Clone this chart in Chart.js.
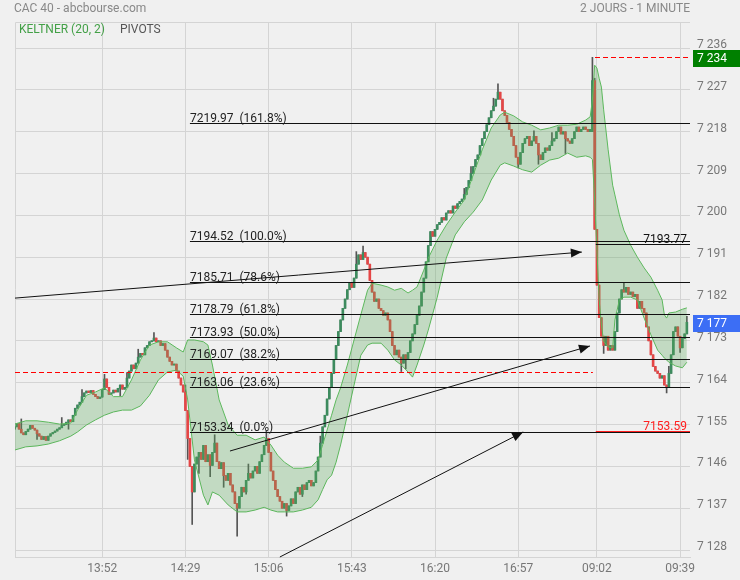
<!DOCTYPE html>
<html>
<head>
<meta charset="utf-8">
<script src="https://cdn.jsdelivr.net/npm/chart.js@4.4.1/dist/chart.umd.min.js"></script>
<style>
  body { margin: 0; background: #f0f0f0; font-family: Roboto, sans-serif; }
  #wrap { position: relative; width: 740px; height: 580px; }
  canvas { position: absolute; left: 0; top: 0; }
  .t { position: absolute; font-size: 12px; line-height: 14px; color: #888; white-space: nowrap; }
</style>
</head>
<body>
<div id="wrap">
  <canvas id="chart" width="740" height="580"></canvas>
  <div class="t" style="left:14px;top:1px">CAC 40 - abcbourse.com</div>
  <div class="t" style="right:50px;top:1px">2 JOURS - 1 MINUTE</div>
  <div class="t" style="left:19px;top:22px;color:#43a047">KELTNER (20, 2)</div>
  <div class="t" style="left:120px;top:22px;color:#555">PIVOTS</div>
</div>
<script>
// 1-minute closes, day 1 (13:13 - 17:29) and day 2 (09:00 - 09:42)
const closesDay1 = [
  7154.5, 7155.2, 7154.0, 7153.2, 7152.8, 7153.5, 7154.0, 7154.8, 7154.2, 7153.8,
  7153.0, 7152.5, 7151.8, 7152.4, 7151.6, 7152.5, 7153.0, 7153.3, 7153.6, 7154.0,
  7154.3, 7154.8, 7155.0, 7155.5, 7156.0, 7155.6, 7157.0, 7158.5, 7159.2, 7159.8,
  7161.0, 7161.8, 7162.2, 7161.9, 7162.3, 7161.5, 7161.0, 7160.6, 7160.9, 7162.5,
  7164.8, 7163.0, 7161.5, 7161.8, 7162.4, 7162.0, 7162.8, 7163.5, 7162.6, 7163.0,
  7165.0, 7166.5, 7167.8, 7167.0, 7168.2, 7169.5, 7170.3, 7170.0, 7171.5, 7172.0,
  7172.8, 7173.0, 7173.6, 7172.8, 7173.0, 7172.0, 7172.4, 7171.0, 7169.5, 7168.6,
  7167.8, 7168.0, 7166.5, 7165.0, 7163.5, 7162.0, 7158.0, 7152.0, 7146.0, 7140.5,
  7146.5, 7148.0, 7149.0, 7147.5, 7150.5, 7147.0, 7148.5, 7146.2, 7149.0, 7151.0,
  7147.0, 7145.5, 7146.8, 7144.0, 7143.0, 7144.5, 7142.0, 7140.5, 7138.0, 7137.0,
  7139.5, 7141.5, 7140.5, 7143.0, 7144.5, 7143.5, 7145.0, 7146.0, 7144.5, 7147.0,
  7148.5, 7150.5, 7152.0, 7149.0, 7145.0, 7143.0, 7141.0, 7139.5, 7138.5, 7137.0,
  7138.0, 7136.5, 7137.5, 7139.0, 7138.0, 7140.5, 7141.5, 7140.0, 7142.0, 7141.0,
  7142.5, 7143.0, 7141.8, 7142.5, 7145.0, 7148.0, 7151.0, 7154.5, 7157.0, 7160.5,
  7163.0, 7166.0, 7169.0, 7172.0, 7175.0, 7177.5, 7180.0, 7182.0, 7184.0, 7185.5,
  7184.5, 7186.5, 7189.5, 7191.5, 7190.5, 7192.0, 7191.0, 7189.5, 7186.0, 7183.5,
  7181.5, 7182.0, 7180.0, 7179.5, 7178.5, 7179.0, 7177.5, 7175.0, 7172.0, 7170.0,
  7171.0, 7169.5, 7168.2, 7170.0, 7169.0, 7170.5, 7173.0, 7174.5, 7176.5, 7178.5,
  7180.5, 7183.5, 7186.5, 7190.0, 7193.5, 7196.5, 7195.5, 7197.0, 7198.0, 7198.5,
  7199.5, 7199.0, 7200.5, 7201.0, 7200.5, 7202.0, 7201.5, 7202.5, 7203.0, 7203.5,
  7204.5, 7206.0, 7207.5, 7209.0, 7210.5, 7212.0, 7213.0, 7215.0, 7216.5, 7218.0,
  7219.5, 7221.0, 7222.5, 7223.5, 7225.0, 7226.5, 7225.0, 7222.5, 7221.5, 7220.0,
  7218.5, 7217.0, 7215.0, 7212.5, 7211.0, 7213.5, 7215.5, 7216.5, 7217.0, 7215.0,
  7216.0, 7217.0, 7215.5, 7213.0, 7212.0, 7213.5, 7214.5, 7214.0, 7215.0, 7216.0,
  7216.5, 7218.0, 7219.0, 7217.5, 7218.0, 7216.5, 7216.0, 7215.5, 7216.5, 7218.0,
  7219.0, 7218.0, 7218.5, 7219.0, 7218.5, 7218.0, 7218.5
];
const closesDay2 = [
  7229.0, 7197.0, 7185.0, 7178.0, 7174.0, 7172.0, 7174.0, 7171.0, 7172.0, 7171.0,
  7175.0, 7179.0, 7182.0, 7184.0, 7183.5, 7184.5, 7183.0, 7183.5, 7182.5, 7183.0,
  7180.0, 7181.5, 7180.0, 7179.0, 7176.0, 7173.0, 7170.0, 7167.5, 7166.5, 7166.0,
  7165.0, 7165.5, 7163.5, 7163.0, 7166.0, 7170.0, 7175.0, 7176.0, 7174.0, 7171.5,
  7173.5, 7174.5, 7177.0
];
const sessionOpens = [7154.0, 7218.0];

// visible wicks (candle index -> price)
const wickHigh = {
  3: 7156.2, 21: 7156.5, 30: 7162.5, 40: 7165.8, 50: 7166.2, 55: 7171.2, 62: 7174.8,
  76: 7163.5, 89: 7152.8, 104: 7146.5, 112: 7153.6, 136: 7152.5, 152: 7192.2, 155: 7193.4,
  200: 7205.8, 203: 7210.5, 213: 7225.2, 215: 7228.3, 231: 7218.2, 239: 7217.8,
  257: 7234.0, 258: 7229.5, 271: 7185.6, 291: 7167.5, 299: 7178.3
};
const wickLow = {
  10: 7151.8, 24: 7154.0, 47: 7161.2, 77: 7147.5, 79: 7133.5, 82: 7144.5, 87: 7143.8,
  93: 7141.5, 99: 7131.0, 103: 7140.0, 121: 7135.3, 128: 7139.5, 172: 7166.4, 174: 7167.0,
  224: 7210.2, 233: 7211.0, 245: 7213.3, 262: 7170.3, 290: 7161.8, 296: 7170.5
};

// Keltner (20, 2) band, read at these candle indices
const bandIdx = [
  0, 5, 10, 15, 20, 25, 28, 32, 36, 40, 44, 48, 52, 56, 60, 64, 68, 72, 75, 77,
  80, 84, 86, 88, 91, 95, 99, 103, 107, 111, 114, 117, 120, 124, 128, 132, 135, 137, 139, 141,
  143, 145, 148, 151, 154, 157, 159, 163, 166, 169, 172, 175, 177, 179, 182, 184, 188, 192, 196, 200,
  204, 208, 212, 216, 218, 222, 226, 230, 234, 238, 242, 246, 250, 254, 256,
  257, 258, 259, 260, 261, 262, 264, 266, 267, 269, 271, 274, 277, 280, 283, 286, 288, 289, 290, 291,
  294, 297, 299
];
const bandUpper = [
  7155.1, 7155.8, 7155.8, 7155.5, 7155.1, 7155.3, 7158.1, 7161.3, 7162.0, 7162.9,
  7161.0, 7161.0, 7164.6, 7168.9, 7172.1, 7172.8, 7172.8, 7171.5, 7170.6, 7173.2,
  7173.2, 7172.8, 7172.1, 7167.8, 7160.3, 7154.9, 7152.7, 7152.7, 7151.7, 7152.3,
  7150.6, 7148.4, 7146.9, 7145.6, 7145.6, 7145.9, 7147.4, 7150.6, 7153.8, 7157.0,
  7160.3, 7162.9, 7167.8, 7173.2, 7178.6, 7183.9, 7185.4, 7185.0, 7184.6, 7183.9,
  7184.3, 7183.3, 7183.9, 7184.6, 7188.2, 7190.8, 7194.7, 7197.9, 7200.7, 7203.3,
  7208.7, 7214.1, 7218.8, 7221.6, 7222.2, 7221.4, 7220.1, 7219.4, 7218.4, 7218.8,
  7219.4, 7219.4, 7219.6, 7220.5, 7221.2,
  7224.8, 7232.3, 7231.7, 7229.5, 7227.6, 7222.7, 7214.1, 7206.5, 7204.4, 7200.1,
  7196.8, 7193.6, 7191.0, 7188.7, 7186.7, 7183.9, 7181.8, 7178.6, 7177.9, 7179.0,
  7179.2, 7179.8, 7180.1
];
const bandLower = [
  7149.5, 7150.2, 7150.4, 7150.8, 7151.5, 7152.5, 7153.4, 7154.9, 7156.0, 7157.0,
  7157.7, 7158.1, 7158.1, 7159.0, 7161.3, 7164.6, 7166.3, 7166.7, 7165.4, 7160.3,
  7147.4, 7139.8, 7137.7, 7140.5, 7139.8, 7137.7, 7136.2, 7136.2, 7136.6, 7137.2,
  7136.6, 7136.2, 7136.2, 7136.2, 7136.6, 7137.2, 7138.8, 7141.0, 7143.1, 7144.1,
  7146.9, 7150.6, 7157.0, 7163.5, 7169.9, 7172.1, 7172.5, 7172.5, 7171.0, 7168.9,
  7167.8, 7166.3, 7165.2, 7167.8, 7172.1, 7175.3, 7182.4, 7190.8, 7195.8, 7198.6,
  7200.7, 7203.3, 7207.6, 7210.8, 7211.3, 7210.6, 7209.8, 7209.3, 7210.8, 7211.9,
  7212.3, 7213.4, 7212.5, 7212.8, 7212.5,
  7212.0, 7203.3, 7192.5, 7181.8, 7176.4, 7172.9, 7171.7, 7171.5, 7177.5, 7181.8,
  7182.4, 7182.4, 7181.8, 7177.9, 7174.3, 7171.0, 7169.9, 7169.3, 7168.9, 7168.4,
  7167.6, 7167.2, 7168.4
];

const priceTicks = [7128, 7137, 7146, 7155, 7164, 7173, 7182, 7191, 7200, 7209, 7218, 7227, 7236];
const timeTickIdx = [39, 76, 113, 150, 187, 224, 259, 296];
const timeTickLabels = ['13:52', '14:29', '15:06', '15:43', '16:20', '16:57', '09:02', '09:39'];

// pivots / retracements
const fibPrices = [7219.97, 7194.52, 7185.71, 7178.79, 7173.93, 7169.07, 7163.06, 7153.34];
const fibPcts = ['161.8%', '100.0%', '78.6%', '61.8%', '50.0%', '38.2%', '23.6%', '0.0%'];
const fibStart = 78;
const sessionLevels = [7193.77, 7153.59];
const prevClose = 7166.3;
const dayHigh = 7234;
const lastPrice = 7177;
// [index from, price from, index to, price to]
const arrows = [
  [0.2, 7182.2, 252.3, 7192.1],
  [95.8, 7149.3, 255.9, 7171.9],
  [118, 7126.5, 226.2, 7153.4]
];

const closes = closesDay1.concat(closesDay2);
const opens = closes.map((c, i) => i === 0 ? sessionOpens[0] : i === closesDay1.length ? sessionOpens[1] : closes[i - 1]);
const highs = closes.map((c, i) => wickHigh[i] ?? Math.max(c, opens[i]));
const lows = closes.map((c, i) => wickLow[i] ?? Math.min(c, opens[i]));

const fmt = v => String(v).replace(/(\d)(\d{3})$/, '$1 $2');

const overlay = {
  id: 'overlay',
  beforeDatasetsDraw(chart) {
    const { ctx, chartArea: a } = chart;
    ctx.save();
    ctx.strokeStyle = '#d4d4d4';
    ctx.lineWidth = 1;
    ctx.beginPath();
    ctx.moveTo(a.left + 0.5, a.bottom);
    ctx.lineTo(a.left + 0.5, a.top + 0.5);
    ctx.lineTo(a.right, a.top + 0.5);
    ctx.stroke();
    ctx.restore();
  },
  afterDatasetsDraw(chart) {
    const { ctx, chartArea: a, scales: { x, y } } = chart;
    const X = v => x.getPixelForValue(v);
    const Y = v => Math.round(y.getPixelForValue(v)) + 0.5;
    const line = (x1, y1, x2, y2) => { ctx.beginPath(); ctx.moveTo(x1, y1); ctx.lineTo(x2, y2); ctx.stroke(); };
    ctx.save();
    ctx.lineWidth = 1;

    ctx.strokeStyle = '#ff0000';
    ctx.setLineDash([5, 3]);
    line(a.left, Y(prevClose), X(closesDay1.length + 0.2), Y(prevClose));
    ctx.strokeStyle = '#ff0000';
    line(Math.round(X(closesDay1.length + 1.1)), Y(dayHigh), a.right, Y(dayHigh));
    ctx.setLineDash([]);

    ctx.font = '12px Roboto';
    ctx.strokeStyle = '#111';
    ctx.fillStyle = '#222';
    fibPrices.forEach((p, k) => {
      line(X(fibStart), Y(p), a.right, Y(p));
      ctx.fillText(p.toFixed(2) + '  (' + fibPcts[k] + ')', X(fibStart), Y(p) - 2);
    });

    ctx.textAlign = 'right';
    sessionLevels.forEach((p, k) => {
      const c = k === 0 ? '#111' : '#ff2020';
      ctx.strokeStyle = c;
      ctx.fillStyle = c;
      line(X(closesDay1.length + 1.5), Y(p), a.right, Y(p));
      ctx.fillText(p.toFixed(2), a.right - 3, Y(p) - 2);
    });
    ctx.textAlign = 'left';

    ctx.strokeStyle = '#111';
    ctx.fillStyle = '#111';
    arrows.forEach(([i1, p1, i2, p2]) => {
      const x1 = X(i1), y1 = y.getPixelForValue(p1), x2 = X(i2), y2 = y.getPixelForValue(p2);
      line(x1, y1, x2, y2);
      const ang = Math.atan2(y2 - y1, x2 - x1), L = 11, W = 4.5;
      ctx.beginPath();
      ctx.moveTo(x2, y2);
      ctx.lineTo(x2 - L * Math.cos(ang) + W * Math.sin(ang), y2 - L * Math.sin(ang) - W * Math.cos(ang));
      ctx.lineTo(x2 - L * Math.cos(ang) - W * Math.sin(ang), y2 - L * Math.sin(ang) + W * Math.cos(ang));
      ctx.closePath();
      ctx.fill();
    });
    ctx.restore();
  },
  afterDraw(chart) {
    const { ctx, chartArea: a, scales: { y } } = chart;
    ctx.save();
    ctx.font = '12px Roboto';
    ctx.textBaseline = 'middle';
    [[dayHigh, '#008000'], [lastPrice, '#3c6ef5']].forEach(([p, c]) => {
      const py = y.getPixelForValue(p);
      ctx.fillStyle = c;
      ctx.fillRect(a.right + 3, Math.round(py) - 7, 47, 17);
      ctx.fillStyle = '#fff';
      ctx.fillText(fmt(p), a.right + 7, Math.round(py) + 1.5);
    });
    ctx.restore();
  }
};

new Chart(document.getElementById('chart'), {
  data: {
    datasets: [
      {
        type: 'line',
        data: bandIdx.map((v, k) => ({ x: v, y: bandUpper[k] })),
        borderColor: '#5cb85c',
        borderWidth: 1,
        pointRadius: 0,
        fill: '+1',
        backgroundColor: 'rgba(90, 170, 90, 0.3)',
        order: 1
      },
      {
        type: 'line',
        data: bandIdx.map((v, k) => ({ x: v, y: bandLower[k] })),
        borderColor: '#5cb85c',
        borderWidth: 1,
        pointRadius: 0,
        fill: false,
        order: 1
      },
      {
        type: 'bar',
        data: closes.map((c, i) => ({ x: i, y: [opens[i], c] })),
        backgroundColor: closes.map((c, i) => c >= opens[i] ? '#3d8b5e' : '#e54646'),
        barThickness: 2,
        minBarLength: 1,
        grouped: false,
        order: 2
      },
      {
        type: 'bar',
        data: closes.map((c, i) => ({ x: i, y: [lows[i], highs[i]] })),
        backgroundColor: '#555555',
        barThickness: 1,
        grouped: false,
        order: 3
      }
    ]
  },
  options: {
    responsive: false,
    animation: false,
    events: [],
    layout: { padding: { left: 15, top: 22, right: 0, bottom: 0 } },
    plugins: { legend: { display: false }, tooltip: { enabled: false } },
    scales: {
      x: {
        type: 'linear',
        offset: false,
        min: 0.2,
        max: 300.4,
        afterBuildTicks: s => { s.ticks = timeTickIdx.map(v => ({ value: v })); },
        afterFit: s => { s.height = 23; },
        ticks: {
          callback: (v, i) => timeTickLabels[i],
          color: '#777',
          font: { family: 'Roboto', size: 12 },
          padding: 5,
          maxRotation: 0,
          autoSkip: false
        },
        grid: { color: '#d4d4d4', tickLength: 0, offset: false },
        border: { color: '#d4d4d4' }
      },
      y: {
        position: 'right',
        min: 7126.5,
        max: 7241.6,
        afterBuildTicks: s => { s.ticks = priceTicks.map(v => ({ value: v })); },
        afterFit: s => { s.width = 50; },
        ticks: {
          callback: v => fmt(v),
          color: '#777',
          font: { family: 'Roboto', size: 12 },
          padding: 7,
          labelOffset: -3
        },
        grid: { color: '#d4d4d4', tickLength: 0 },
        border: { display: false }
      }
    }
  },
  plugins: [overlay]
});
</script>
</body>
</html>
